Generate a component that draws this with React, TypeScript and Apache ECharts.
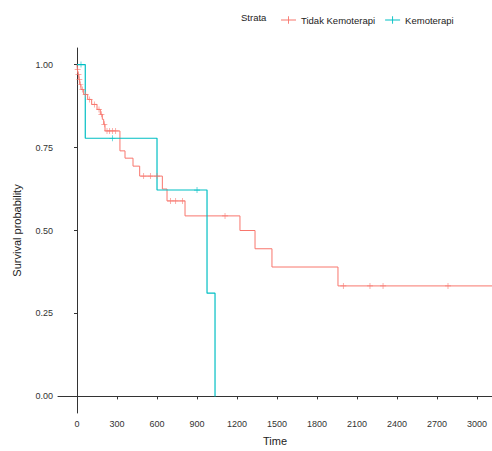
import React, { useEffect, useRef } from "react";
import * as echarts from "echarts";

// Kaplan–Meier step points: [time, survival probability]
const tidakSteps: [number, number][] = [
  [0, 1.0], [3, 0.985], [8, 0.97], [14, 0.955], [20, 0.94], [30, 0.925],
  [50, 0.91], [80, 0.895], [110, 0.88], [150, 0.865], [175, 0.85],
  [190, 0.835], [200, 0.82], [210, 0.8], [322, 0.74], [360, 0.718],
  [420, 0.694], [470, 0.664], [640, 0.625], [675, 0.589], [810, 0.544],
  [1222, 0.5], [1335, 0.445], [1462, 0.39], [1957, 0.333], [3112, 0.333],
];
const kemoSteps: [number, number][] = [
  [0, 1.0], [62, 0.778], [600, 0.622], [975, 0.311], [1035, 0.0],
];

// Censoring times (drawn as "+" on the curve)
const tidakCensor: number[] = [
  5, 11, 17, 25, 40, 65, 95, 130, 165, 183, 205, 225, 245, 265, 290,
  500, 550, 600, 700, 740, 790, 1110, 1997, 2197, 2295, 2782,
];
const kemoCensor: number[] = [30, 265, 900];

const xTicks: number[] = [0, 300, 600, 900, 1200, 1500, 1800, 2100, 2400, 2700, 3000];
const yTicks: number[] = [0, 0.25, 0.5, 0.75, 1.0];

const seriesNames = ["Tidak Kemoterapi", "Kemoterapi"];
const colors = ["#F8766D", "#00BFC4"];

// survival value of a step curve at time t
function survivalAt(steps: [number, number][], t: number): number {
  let s = steps[0][1];
  for (const [time, v] of steps) {
    if (time <= t) s = v;
    else break;
  }
  return s;
}

const plusSymbol = "path://M4.4,0h1.2v10h-1.2zM0,4.4h10v1.2h-10z";
const legendIcon = "path://M0,4.4h20v1.2h-20zM9.4,0h1.2v10h-1.2z";
const font = "Liberation Sans, Arial, sans-serif";

export default function App() {
  const ref = useRef<HTMLDivElement>(null);

  useEffect(() => {
    document.body.style.margin = "0";
    if (!ref.current) return;
    const chart = echarts.init(ref.current, undefined, { renderer: "svg" });

    const option: echarts.EChartsOption = {
      animation: false,
      backgroundColor: "#ffffff",
      textStyle: { fontFamily: font },
      grid: { left: 58, right: 0, top: 48, bottom: 36 },
      legend: {
        top: 10,
        left: 276,
        data: seriesNames.map((n) => ({ name: n, icon: legendIcon })),
        itemWidth: 15,
        itemHeight: 8,
        itemGap: 10,
        textStyle: { fontFamily: font, fontSize: 9.5, color: "#222" },
        selectedMode: false,
      },
      graphic: [
        {
          type: "text",
          left: 241,
          top: 12,
          style: { text: "Strata", font: `9.5px ${font}`, fill: "#222" },
        },
      ],
      xAxis: {
        type: "value",
        min: -142.5,
        max: 3112,
        name: "Time",
        nameLocation: "middle",
        nameGap: 22,
        nameTextStyle: { fontFamily: font, fontSize: 11, color: "#222" },
        axisLine: { show: true, lineStyle: { color: "#333", width: 1 } },
        axisTick: { show: true, length: 3, customValues: xTicks, lineStyle: { color: "#333" } },
        axisLabel: {
          customValues: xTicks,
          fontSize: 9,
          color: "#333",
          margin: 6,
          formatter: (v: number) => String(v),
        },
        splitLine: { show: false },
      },
      yAxis: {
        type: "value",
        min: -0.05,
        max: 1.05,
        name: "Survival probability",
        nameLocation: "middle",
        nameGap: 36,
        nameTextStyle: { fontFamily: font, fontSize: 11, color: "#222" },
        axisLine: { show: true, lineStyle: { color: "#333", width: 1 } },
        axisTick: { show: true, length: 3, customValues: yTicks, lineStyle: { color: "#333" } },
        axisLabel: {
          customValues: yTicks,
          fontSize: 9,
          color: "#333",
          margin: 5,
          formatter: (v: number) => v.toFixed(2),
        },
        splitLine: { show: false },
      },
      series: [
        {
          name: seriesNames[0],
          type: "line",
          step: "end",
          data: tidakSteps,
          showSymbol: false,
          lineStyle: { color: colors[0], width: 1 },
          itemStyle: { color: colors[0] },
          z: 2,
        },
        {
          name: seriesNames[1],
          type: "line",
          step: "end",
          data: kemoSteps,
          showSymbol: false,
          lineStyle: { color: colors[1], width: 1.2 },
          itemStyle: { color: colors[1] },
          z: 3,
        },
        {
          name: "censor-tidak",
          type: "scatter",
          data: tidakCensor.map((t) => [t, survivalAt(tidakSteps, t)]),
          symbol: plusSymbol,
          symbolSize: 6,
          itemStyle: { color: colors[0] },
          z: 4,
        },
        {
          name: "censor-kemo",
          type: "scatter",
          data: kemoCensor.map((t) => [t, survivalAt(kemoSteps, t)]),
          symbol: plusSymbol,
          symbolSize: 6,
          itemStyle: { color: colors[1] },
          z: 5,
        },
      ],
    };

    chart.setOption(option);
    return () => chart.dispose();
  }, []);

  return <div ref={ref} style={{ width: 492, height: 451 }} />;
}
